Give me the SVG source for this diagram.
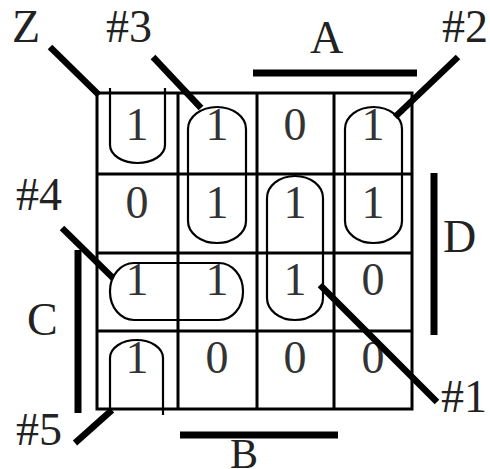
<svg xmlns="http://www.w3.org/2000/svg" width="490" height="469" viewBox="0 0 490 469">
<style>
.grid{stroke:#000;stroke-width:3;fill:none}
.loop{stroke:#000;stroke-width:2.2;fill:none}
.lead{stroke:#000;stroke-width:6.5;stroke-linecap:butt}
.bar{stroke:#000;stroke-width:7;stroke-linecap:butt}
.dig{font-family:"Liberation Serif","Times New Roman",serif;font-size:46px;fill:#333;text-anchor:middle}
.lab{font-family:"Liberation Serif","Times New Roman",serif;font-size:46px;fill:#222}
</style>
<rect width="490" height="469" fill="#fff"/>
<g id="grid" class="grid">
<rect x="97" y="93" width="315" height="316"/>
<line x1="178" y1="93" x2="178" y2="409"/>
<line x1="257" y1="93" x2="257" y2="409"/>
<line x1="334" y1="93" x2="334" y2="409"/>
<line x1="97" y1="174" x2="412" y2="174"/>
<line x1="97" y1="253" x2="412" y2="253"/>
<line x1="97" y1="331" x2="412" y2="331"/>
</g>
<g id="cells" class="dig">
<text x="137" y="140">1</text><text x="217" y="140">1</text><text x="295" y="140">0</text><text x="373" y="140">1</text>
<text x="137" y="218">0</text><text x="217" y="218">1</text><text x="295" y="218">1</text><text x="373" y="218">1</text>
<text x="137" y="295">1</text><text x="217" y="295">1</text><text x="295" y="295">1</text><text x="373" y="295">0</text>
<text x="137" y="373">1</text><text x="217" y="373">0</text><text x="295" y="373">0</text><text x="373" y="373">0</text>
</g>
<g id="loops" class="loop">
<path id="loopZ" d="M110,88 L110,145 A27.5,18 0 0 0 165,145 L165,88"/>
<rect id="loop3" x="188" y="107" width="58" height="136" rx="29" ry="22"/>
<rect id="loop2" x="345" y="107" width="57" height="136" rx="28.5" ry="22"/>
<rect id="loop1" x="267" y="176" width="56" height="144" rx="28" ry="22"/>
<rect id="loop4" x="110" y="263" width="133" height="57" rx="24" ry="28"/>
<path id="loop5" d="M110,409 L110,358 A26.5,18 0 0 1 163,358 L163,415"/>
</g>
<g id="connectors">
<line class="lead" x1="50" y1="47" x2="99" y2="95"/>
<line class="lead" x1="153" y1="57" x2="201" y2="108"/>
<line class="lead" x1="458" y1="57" x2="395" y2="117"/>
<line class="lead" x1="62" y1="228" x2="113" y2="278"/>
<line class="lead" x1="75" y1="443" x2="112" y2="410"/>
<line class="lead" x1="320" y1="285" x2="437" y2="402"/>
<line class="bar" x1="253" y1="73" x2="417" y2="73"/>
<line class="bar" x1="434" y1="173" x2="434" y2="335"/>
<line class="bar" x1="78" y1="250" x2="78" y2="413"/>
<line class="bar" x1="180" y1="435" x2="338" y2="435"/>
</g>
<g id="labels" class="lab">
<text x="12" y="42">Z</text>
<text x="106" y="42">#3</text>
<text x="310" y="53">A</text>
<text x="442" y="42">#2</text>
<text x="16" y="210">#4</text>
<text x="443" y="252">D</text>
<text x="27" y="335">C</text>
<text x="16" y="445">#5</text>
<text x="441" y="412">#1</text>
<text x="230" y="468" font-size="42">B</text>
</g>
</svg>
